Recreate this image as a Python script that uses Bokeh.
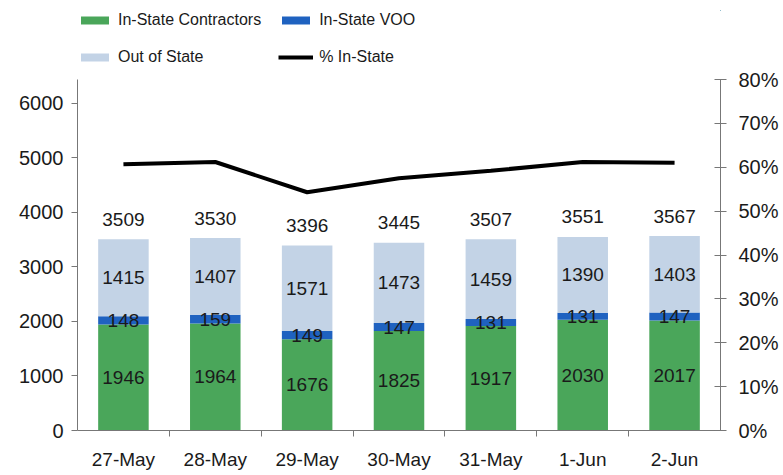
from bokeh.plotting import figure
from bokeh.layouts import column
from bokeh.models import (ColumnDataSource, Range1d, LinearAxis, FixedTicker,
                          Legend, LegendItem, LabelSet, NumeralTickFormatter)
from bokeh.core.properties import value
from bokeh.embed import file_html
from bokeh.resources import INLINE

dates = ["27-May", "28-May", "29-May", "30-May", "31-May", "1-Jun", "2-Jun"]
in_state_contractors = [1946, 1964, 1676, 1825, 1917, 2030, 2017]
in_state_voo = [148, 159, 149, 147, 131, 131, 147]
out_of_state = [1415, 1407, 1571, 1473, 1459, 1390, 1403]
totals = [3509, 3530, 3396, 3445, 3507, 3551, 3567]
pct_in_state = [0.607, 0.612, 0.543, 0.575, 0.592, 0.612, 0.610]

left_ticks = [0, 1000, 2000, 3000, 4000, 5000, 6000]
right_ticks = [0, 0.1, 0.2, 0.3, 0.4, 0.5, 0.6, 0.7, 0.8]

GREEN = "#4aa65a"
BLUE = "#1f62c0"
LIGHT = "#c3d3e6"
FONT = "Liberation Sans"
TXT = "#1a1a1a"
AXC = "#777777"

idx = list(range(len(dates)))
src = ColumnDataSource(dict(
    x=idx,
    c=in_state_contractors,
    ct=[c + v for c, v in zip(in_state_contractors, in_state_voo)],
    total=totals,
    pct=pct_in_state,
    c_mid=[c / 2 for c in in_state_contractors],
    v_mid=[c + v / 2 for c, v in zip(in_state_contractors, in_state_voo)],
    o_mid=[c + v + o / 2 for c, v, o in zip(in_state_contractors, in_state_voo, out_of_state)],
    c_lab=[str(c) for c in in_state_contractors],
    v_lab=[str(v) for v in in_state_voo],
    o_lab=[str(o) for o in out_of_state],
    t_lab=[str(t) for t in totals],
))

def add_series(fig, pct_range=None):
    rc = fig.vbar(x="x", bottom=0, top="c", width=0.55, source=src,
                  fill_color=GREEN, line_color=None)
    rv = fig.vbar(x="x", bottom="c", top="ct", width=0.55, source=src,
                  fill_color=BLUE, line_color=None)
    ro = fig.vbar(x="x", bottom="ct", top="total", width=0.55, source=src,
                  fill_color=LIGHT, line_color=None)
    kw = {"y_range_name": pct_range} if pct_range else {}
    rl = fig.line(x="x", y="pct", source=src, line_color="black",
                  line_width=4, **kw)
    return rc, rv, ro, rl

# ---------------- main chart ----------------
p = figure(width=783, height=408, output_backend="svg", toolbar_location=None,
           x_range=Range1d(-0.5, len(dates) - 0.5), y_range=Range1d(0, 6440),
           min_border_left=77, min_border_right=63, min_border_bottom=45,
           min_border_top=12)
p.outline_line_color = None
p.grid.grid_line_color = None
p.extra_y_ranges = {"pct": Range1d(0, 0.8)}
add_series(p, "pct")

def labels(ycol, tcol, yoff=0):
    return LabelSet(source=src, x="x", y=ycol, text=tcol, y_offset=yoff,
                    text_align="center", text_baseline="middle",
                    text_font=value(FONT), text_font_size="19px", text_color=TXT)

p.add_layout(labels("c_mid", "c_lab"))
p.add_layout(labels("v_mid", "v_lab"))
p.add_layout(labels("o_mid", "o_lab"))
p.add_layout(labels("total", "t_lab", 20))

ya = p.yaxis[0]
ya.ticker = FixedTicker(ticks=left_ticks)
ya.axis_line_color = AXC
ya.major_tick_line_color = AXC
ya.major_tick_out = 6
ya.major_tick_in = 0
ya.minor_tick_line_color = None
ya.major_label_text_font = FONT
ya.major_label_text_font_size = "20px"
ya.major_label_text_color = TXT
ya.major_label_standoff = 8

ra = LinearAxis(y_range_name="pct", ticker=FixedTicker(ticks=right_ticks),
                formatter=NumeralTickFormatter(format="0%"))
ra.axis_line_color = AXC
ra.major_tick_line_color = AXC
ra.major_tick_out = 6
ra.major_tick_in = 6
ra.minor_tick_line_color = None
ra.major_label_text_font = FONT
ra.major_label_text_font_size = "20px"
ra.major_label_text_color = TXT
ra.major_label_standoff = 12
p.add_layout(ra, "right")

xa = p.xaxis[0]
xa.ticker = FixedTicker(ticks=idx, minor_ticks=[i + 0.5 for i in idx[:-1]])
xa.major_label_overrides = {i: d for i, d in zip(idx, dates)}
xa.axis_line_color = AXC
xa.major_tick_line_color = None
xa.minor_tick_line_color = AXC
xa.minor_tick_out = 6
xa.minor_tick_in = 0
xa.major_label_text_font = FONT
xa.major_label_text_font_size = "19px"
xa.major_label_text_color = TXT
xa.major_label_standoff = 12

# ---------------- legend strip (series drawn off-range, legend only) ----------------
lf = figure(width=783, height=67, output_backend="svg", toolbar_location=None,
            x_range=Range1d(-200, -199), y_range=Range1d(-200, -199),
            x_axis_type=None, y_axis_type=None,
            min_border_left=53, min_border_right=0, min_border_top=10,
            min_border_bottom=0)
lf.outline_line_color = None
lf.grid.grid_line_color = None
g_c, g_v, g_o, g_l = add_series(lf)

legend = Legend(items=[
    LegendItem(label="In-State Contractors", renderers=[g_c]),
    LegendItem(label="Out of State", renderers=[g_o]),
    LegendItem(label="In-State VOO", renderers=[g_v]),
    LegendItem(label="% In-State", renderers=[g_l]),
], ncols=2, location="top_left")
legend.glyph_width = 35
legend.glyph_height = 10
legend.label_height = 20
legend.label_standoff = 6
legend.spacing = 17
legend.padding = 0
legend.margin = 0
legend.border_line_color = None
legend.background_fill_alpha = 0
legend.label_text_font = FONT
legend.label_text_font_size = "16px"
legend.label_text_color = TXT
lf.add_layout(legend, "center")

open("out.html", "w").write(file_html(column(lf, p), INLINE))
